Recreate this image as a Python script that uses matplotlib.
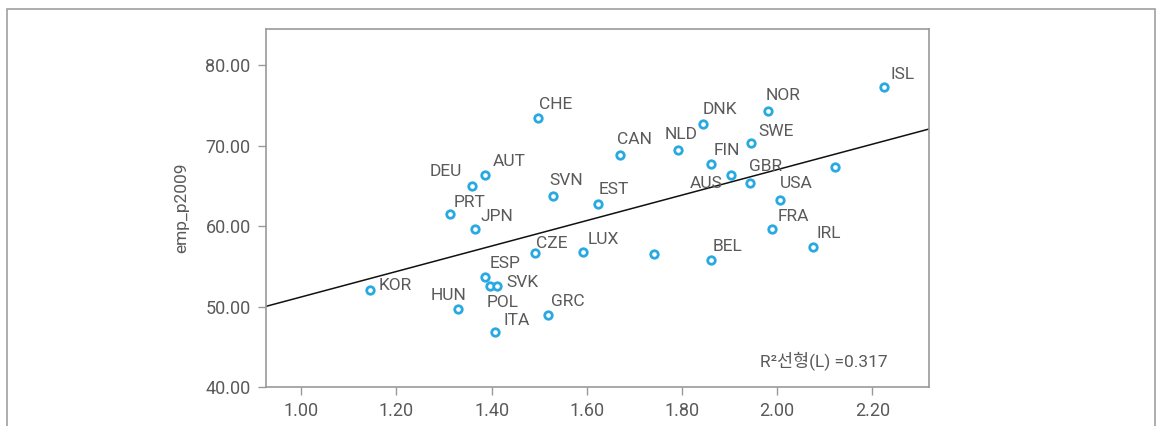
import numpy as np
import matplotlib
matplotlib.use('Agg')
import matplotlib.pyplot as plt
from matplotlib.patches import Rectangle

plt.rcParams['font.family'] = ['Roboto', 'Noto Sans CJK KR', 'DejaVu Sans']

# data
countries = ['KOR', 'HUN', 'ITA', 'POL', 'SVK', 'ESP', 'GRC', 'CZE', 'LUX', '',
             'BEL', 'JPN', 'PRT', 'DEU', 'AUT', 'SVN', 'EST', 'CHE', 'CAN', 'NLD',
             'DNK', 'FIN', 'AUS', 'ISL', 'NOR', 'SWE', 'GBR', 'USA', 'FRA', 'IRL', '']
x_vals = [1.145, 1.329, 1.408, 1.396, 1.412, 1.387, 1.519, 1.491, 1.592, 1.741,
          1.860, 1.366, 1.313, 1.359, 1.387, 1.529, 1.623, 1.498, 1.670, 1.792,
          1.844, 1.861, 1.903, 2.225, 1.981, 1.945, 1.942, 2.005, 1.990, 2.075, 2.121]
y_vals = [52.0, 49.7, 46.9, 52.6, 52.6, 53.7, 48.9, 56.6, 56.8, 56.5,
          55.8, 59.7, 61.5, 65.0, 66.3, 63.7, 62.8, 73.5, 68.9, 69.5,
          72.75, 67.7, 66.3, 77.3, 74.3, 70.3, 65.3, 63.3, 59.7, 57.4, 67.4]
r2_text = 'R²선형(L) =0.317'

# label offsets in pixels: (dx, dy, ha)
offsets = {
    'KOR': (8, 5, 'left'), 'HUN': (9, 13, 'right'), 'ITA': (8, 11, 'left'),
    'POL': (-3, -17, 'left'), 'SVK': (9, 3, 'left'), 'ESP': (4, 13, 'left'),
    'GRC': (3, 14, 'left'), 'CZE': (1, 10, 'left'), 'LUX': (5, 12, 'left'),
    'BEL': (2, 13, 'left'), 'JPN': (5, 12, 'left'), 'PRT': (3, 12, 'left'),
    'DEU': (-10, 14, 'right'), 'AUT': (7, 14, 'left'), 'SVN': (-4, 16, 'left'),
    'EST': (1, 14, 'left'), 'CHE': (1, 13, 'left'), 'CAN': (-3, 15, 'left'),
    'NLD': (-14, 15, 'left'), 'DNK': (0, 14, 'left'), 'FIN': (3, 14, 'left'),
    'AUS': (-8, -8, 'right'), 'ISL': (6, 12, 'left'), 'NOR': (-2, 16, 'left'),
    'SWE': (7, 12, 'left'), 'GBR': (-1, 17, 'left'), 'USA': (0, 16, 'left'),
    'FRA': (5, 12, 'left'), 'IRL': (4, 14, 'left'),
}

text_c = '#5a5a5a'
axis_c = '#999999'
blue = '#29a9e1'

fig = plt.figure(figsize=(11.57, 4.26), dpi=100)
ax = fig.add_axes([0.2299, 0.0915, 0.5730, 0.8404])

fig.patches.append(Rectangle((0.006, -0.1), 0.992, 1.079, transform=fig.transFigure,
                             fill=False, edgecolor='#a0a0a0', linewidth=1.2))

x = np.array(x_vals)
y = np.array(y_vals)
xlim = (0.926, 2.319)
slope, icpt = np.polyfit(x, y, 1)
xl = np.array(xlim)
ax.plot(xl, icpt + slope * xl, color='#111111', linewidth=1.1, zorder=2)

ax.plot(x, y, 'o', markersize=5.4, markerfacecolor='white', markeredgecolor=blue,
        markeredgewidth=2.0, zorder=3)

for c, xi, yi in zip(countries, x, y):
    if not c:
        continue
    dx, dy, ha = offsets[c]
    ax.annotate(c, (xi, yi), xytext=(dx, dy), textcoords='offset pixels',
                ha=ha, va='center', fontsize=12.5, color=text_c)

ax.text(0.938, 0.075, r2_text, transform=ax.transAxes, ha='right', va='center',
        fontsize=12.5, color=text_c)

ax.set_xlim(xlim)
ax.set_ylim(40, 84.5)
ax.set_xticks([1.0, 1.2, 1.4, 1.6, 1.8, 2.0, 2.2])
ax.set_xticklabels(['%.2f' % v for v in ax.get_xticks()])
ax.set_yticks([40, 50, 60, 70, 80])
ax.set_yticklabels(['%.2f' % v for v in ax.get_yticks()])
ax.tick_params(direction='out', length=6, width=1, color=axis_c, labelcolor=text_c,
               labelsize=13, pad=5)
for s in ax.spines.values():
    s.set_color(axis_c)
    s.set_linewidth(1.2)
ax.set_ylabel('emp_p2009', fontsize=12.5, color=text_c, labelpad=12)

fig.savefig('out.png', dpi=100)
